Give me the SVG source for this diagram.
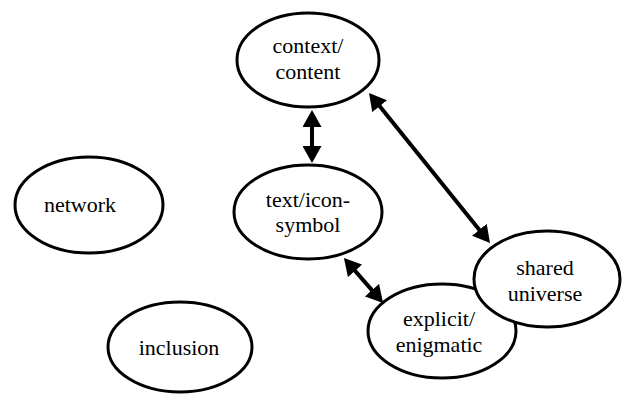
<svg xmlns="http://www.w3.org/2000/svg" width="623" height="394" viewBox="0 0 623 394">
<style>
.node ellipse{fill:#fff;stroke:#000;stroke-width:3}
.node text{font-family:"Liberation Serif","Times New Roman",serif;font-size:22px;fill:#000;text-anchor:middle}
.conn line{stroke:#000;stroke-width:4;marker-start:url(#ah);marker-end:url(#ah)}
</style>
<defs>
<marker id="ah" viewBox="0 0 17 19" markerUnits="userSpaceOnUse" markerWidth="17" markerHeight="19" refX="7" refY="9.5" orient="auto-start-reverse">
<path d="M0,0 L17,9.5 L0,19 z" fill="#000"/>
</marker>
</defs>
<rect width="623" height="394" fill="#fff"/>
<g id="context-content" class="node">
<ellipse cx="308" cy="60" rx="71" ry="47"/>
<text x="308" y="53">context/</text>
<text x="308" y="79">content</text>
</g>
<g id="text-icon-symbol" class="node">
<ellipse cx="308" cy="212" rx="74" ry="47"/>
<text x="308" y="207">text/icon-</text>
<text x="308" y="232">symbol</text>
</g>
<g id="network" class="node">
<ellipse cx="89" cy="205" rx="74" ry="48"/>
<text x="80" y="212">network</text>
</g>
<g id="inclusion" class="node">
<ellipse cx="180" cy="347" rx="72" ry="45"/>
<text x="179" y="355">inclusion</text>
</g>
<g id="explicit-enigmatic" class="node">
<ellipse cx="442" cy="331" rx="74" ry="47"/>
<text x="439" y="326">explicit/</text>
<text x="439" y="352">enigmatic</text>
</g>
<g id="shared-universe" class="node">
<ellipse cx="547" cy="279" rx="73" ry="48"/>
<text x="545" y="275">shared</text>
<text x="545" y="301">universe</text>
</g>
<g id="connectors" class="conn">
<line x1="312" y1="120" x2="312" y2="153"/>
<line x1="375.3" y1="100.8" x2="483.7" y2="235.2"/>
<line x1="350.5" y1="265.6" x2="376.5" y2="295.4"/>
</g>
</svg>
